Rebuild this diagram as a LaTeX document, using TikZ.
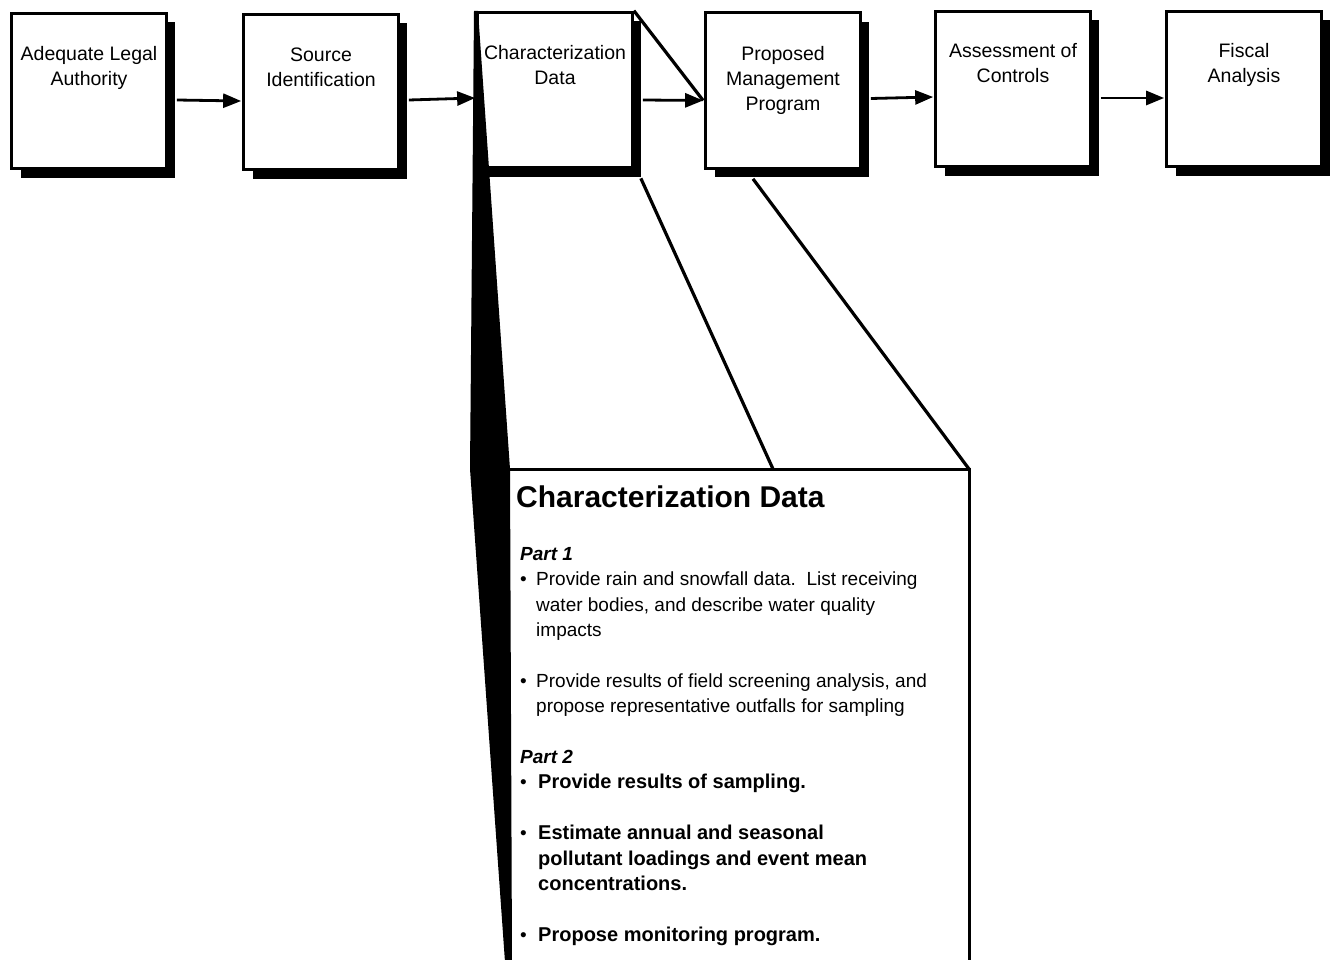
\documentclass[tikz,border=0pt]{standalone}
\usepackage{fontspec}
\setmainfont{Liberation Sans}
\usetikzlibrary{arrows.meta,shadows}
\newcommand{\firstline}{\rule{0pt}{15pt}}
\begin{document}
\begin{tikzpicture}[x=1pt,y=-1pt,
  stage/.style={draw, line width=3.2pt, fill=white, minimum width=154.5pt,
    minimum height=155.5pt, inner sep=0pt,
    drop shadow={shadow xshift=9pt, shadow yshift=-9pt, fill=black, opacity=1}},
  stagetext/.style={anchor=north, align=center, inner sep=0pt,
    font=\fontsize{19.5}{25}\selectfont},
  flow/.style={line width=2.8pt, -{Triangle[length=18pt,width=14pt]}},
  zoomline/.style={line width=3.2pt}]
\useasboundingbox (0,0) rectangle (1333,960);

% process stages
\node[stage] (b1) at (89,91) {};
\node[stage] (b2) at (321,92) {};
\node[stage] (b3) at (555,90) {};
\node[stage] (b4) at (783,90.5) {};
\node[stage] (b5) at (1013,89) {};
\node[stage] (b6) at (1244,89) {};

% stage names: first baseline about 49pt below the top edge
\node[stagetext] (t1) at ([shift={(0,34)}]b1.north) {\firstline Adequate Legal\\Authority};
\node[stagetext] (t2) at ([shift={(0,34)}]b2.north) {\firstline Source\\Identification};
\node[stagetext] (t3) at ([shift={(0,34)}]b3.north) {\firstline Characterization\\Data};
\node[stagetext] (t4) at ([shift={(0,34)}]b4.north) {\firstline Proposed\\Management\\Program};
\node[stagetext] (t5) at ([shift={(0,33)}]b5.north) {\firstline Assessment of\\Controls};
\node[stagetext] (t6) at ([shift={(0,33)}]b6.north) {\firstline Fiscal\\Analysis};

% flow arrows
\draw[flow] ([shift={(9,9)}]b1.east) -- ([shift={(-1,9)}]b2.west);
\draw[flow] ([shift={(9,8)}]b2.east) -- ([shift={(-1,8)}]b3.west);
\draw[flow] ([shift={(9,10)}]b3.east) -- ([shift={(-1,10)}]b4.west);
\draw[flow] ([shift={(9,8)}]b4.east) -- ([shift={(-1,8)}]b5.west);
\draw[flow] ([shift={(9,9)}]b5.east) -- ([shift={(-1,9)}]b6.west);

% enlarged view of the characterization stage
\coordinate (ztl) at (510,469);
\coordinate (zmid) at (773,469);
\coordinate (ztr) at (969,469);
\coordinate (zbr) at (969,962);
\coordinate (zbl) at (512,962);
\coordinate (wa) at (474,11);
\coordinate (wb) at (478,11);
\coordinate (wc) at (470,469);
\coordinate (wd) at (505,962);

\fill[black] (wa) -- (wb) -- (ztl) -- (zbl) -- (wd) -- (wc) -- cycle;
\draw[zoomline] (b3.north east) -- ([shift={(-1,10)}]b4.west);
\draw[zoomline] ([shift={(7,9)}]b3.south east) -- (zmid);
\draw[zoomline] ([shift={(-30,9)}]b4.south) -- (ztr);
\draw[line width=3pt] (ztl) -- (ztr) -- (zbr);

\node[anchor=base west, inner sep=0pt, font=\fontsize{30}{34}\selectfont\bfseries]
  (head) at (516,507) {Characterization Data};

\node[anchor=north west, align=left, inner sep=0pt,
  font=\fontsize{19}{25.4}\selectfont] (body) at (520,545) {%
  \firstline\textbf{\textit{Part 1}}\\
  \makebox[16pt][l]{\textbullet}Provide rain and snowfall data.\ \ List receiving\\
  \hspace*{16pt}water bodies, and describe water quality\\
  \hspace*{16pt}impacts\\[25.4pt]
  \makebox[16pt][l]{\textbullet}Provide results of field screening analysis, and\\
  \hspace*{16pt}propose representative outfalls for sampling\\[25.4pt]
  \textbf{\textit{Part 2}}\\
  \makebox[18pt][l]{\textbullet}{\fontsize{20}{25.4}\selectfont\bfseries Provide results of sampling.}\\[25.4pt]
  \makebox[18pt][l]{\textbullet}{\fontsize{20}{25.4}\selectfont\bfseries Estimate annual and seasonal}\\
  \hspace*{18pt}{\fontsize{20}{25.4}\selectfont\bfseries pollutant loadings and event mean}\\
  \hspace*{18pt}{\fontsize{20}{25.4}\selectfont\bfseries concentrations.}\\[25.4pt]
  \makebox[18pt][l]{\textbullet}{\fontsize{20}{25.4}\selectfont\bfseries Propose monitoring program.}};
\end{tikzpicture}
\end{document}
